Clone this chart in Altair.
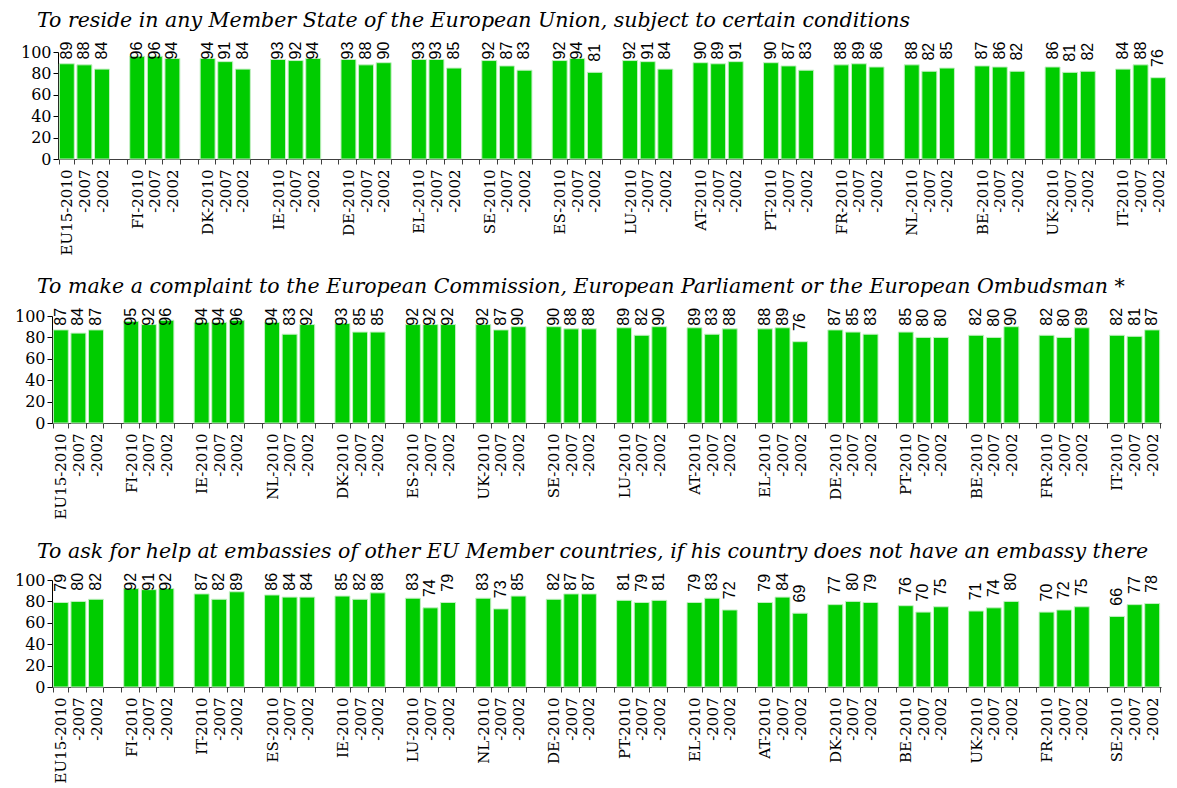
import altair as alt
import pandas as pd

# ---------------- data ----------------
titles = [
    "To reside in any Member State of the European Union, subject to certain conditions",
    "To make a complaint to the European Commission, European Parliament or the European Ombudsman *",
    "To ask for help at embassies of other EU Member countries, if his country does not have an embassy there",
]

p1_countries = ["EU15", "FI", "DK", "IE", "DE", "EL", "SE", "ES", "LU", "AT", "PT", "FR", "NL", "BE", "UK", "IT"]
p1_2010 = [89, 96, 94, 93, 93, 93, 92, 92, 92, 90, 90, 88, 88, 87, 86, 84]
p1_2007 = [88, 96, 91, 92, 88, 93, 87, 94, 91, 89, 87, 89, 82, 86, 81, 88]
p1_2002 = [84, 94, 84, 94, 90, 85, 83, 81, 84, 91, 83, 86, 85, 82, 82, 76]

p2_countries = ["EU15", "FI", "IE", "NL", "DK", "ES", "UK", "SE", "LU", "AT", "EL", "DE", "PT", "BE", "FR", "IT"]
p2_2010 = [87, 95, 94, 94, 93, 92, 92, 90, 89, 89, 88, 87, 85, 82, 82, 82]
p2_2007 = [84, 92, 94, 83, 85, 92, 87, 88, 82, 83, 89, 85, 80, 80, 80, 81]
p2_2002 = [87, 96, 96, 92, 85, 92, 90, 88, 90, 88, 76, 83, 80, 90, 89, 87]

p3_countries = ["EU15", "FI", "IT", "ES", "IE", "LU", "NL", "DE", "PT", "EL", "AT", "DK", "BE", "UK", "FR", "SE"]
p3_2010 = [79, 92, 87, 86, 85, 83, 83, 82, 81, 79, 79, 77, 76, 71, 70, 66]
p3_2007 = [80, 91, 82, 84, 82, 74, 73, 87, 79, 83, 84, 80, 70, 74, 72, 77]
p3_2002 = [82, 92, 89, 84, 88, 79, 85, 87, 81, 72, 69, 79, 75, 80, 75, 78]

years = ["2010", "2007", "2002"]
y_ticks = [0, 20, 40, 60, 80, 100]

panels = [
    (p1_countries, p1_2010, p1_2007, p1_2002, 93, 6),
    (p2_countries, p2_2010, p2_2007, p2_2002, 91, 0),
    (p3_countries, p3_2010, p3_2007, p3_2002, 90, 0),
]

GREEN = "#00CC00"
N_SLOTS = 63
W = 1109
H = 107


def make_panel(idx, countries, v10, v07, v02, cap, shift):
    rows = []
    labels = []
    for i, c in enumerate(countries):
        for j, vals in enumerate([v10, v07, v02]):
            rows.append({"slot": 4 * i + j, "value": vals[i]})
        labels += [f"{c}-{years[0]}", f"-{years[1]}", f"-{years[2]}", ""]
    labels = labels[:N_SLOTS]
    df = pd.DataFrame(rows)
    label_expr = "[" + ",".join("'" + s + "'" for s in labels) + "][datum.value]"

    x_scale = alt.Scale(
        domain=list(range(N_SLOTS)),
        range=[shift, W + shift],
        paddingInner=0.15,
        paddingOuter=0.075,
    )
    x_axis = alt.Axis(
        title=None,
        labelExpr=label_expr,
        labelAngle=-90,
        labelFont="DejaVu Serif",
        labelFontSize=15,
        labelColor="black",
        labelPadding=5,
        labelOverlap=False,
        labelBound=False,
        tickBand="extent",
        tickSize=5,
        tickColor="#404040",
        domainColor="#404040",
        grid=False,
    )
    y_scale = alt.Scale(domain=[0, 100], nice=False)
    y_axis = alt.Axis(
        title=None,
        values=y_ticks,
        labelFont="DejaVu Serif",
        labelFontSize=16,
        labelColor="black",
        labelPadding=2,
        labelOverlap=False,
        labelBound=False,
        tickSize=5,
        tickColor="black",
        domainColor="black",
        grid=False,
        minExtent=44,
        offset=-shift,
    )
    base = alt.Chart(df)
    bars = base.mark_bar(color=GREEN, stroke="#c4f0c4", strokeWidth=1).encode(
        x=alt.X("slot:O", scale=x_scale, axis=x_axis),
        y=alt.Y("value:Q", scale=y_scale, axis=y_axis),
    )
    text = (
        base.transform_calculate(lab=f"min(datum.value + 10, {cap})")
        .mark_text(angle=270, align="left", baseline="middle", font="Liberation Sans", fontSize=16, color="black")
        .encode(
            x=alt.X("slot:O", scale=x_scale, axis=x_axis),
            y=alt.Y("lab:Q", scale=y_scale, axis=y_axis),
            text=alt.Text("value:Q"),
        )
    )
    return alt.layer(bars, text).properties(
        width=W,
        height=H,
        title=alt.TitleParams(
            text=titles[idx],
            anchor="start",
            frame="group",
            dx=-15,
            offset=10,
            font="DejaVu Serif",
            fontStyle="italic",
            fontWeight="normal",
            fontSize=20.5,
            color="black",
        ),
    )


charts = [make_panel(k, *p) for k, p in enumerate(panels)]

chart = (
    alt.vconcat(*charts, spacing=22)
    .properties(padding={"top": 3, "left": 0, "right": 0, "bottom": 0})
    .configure_view(stroke=None)
)

chart.save("out.html", embed_options={"renderer": "svg", "actions": False})
